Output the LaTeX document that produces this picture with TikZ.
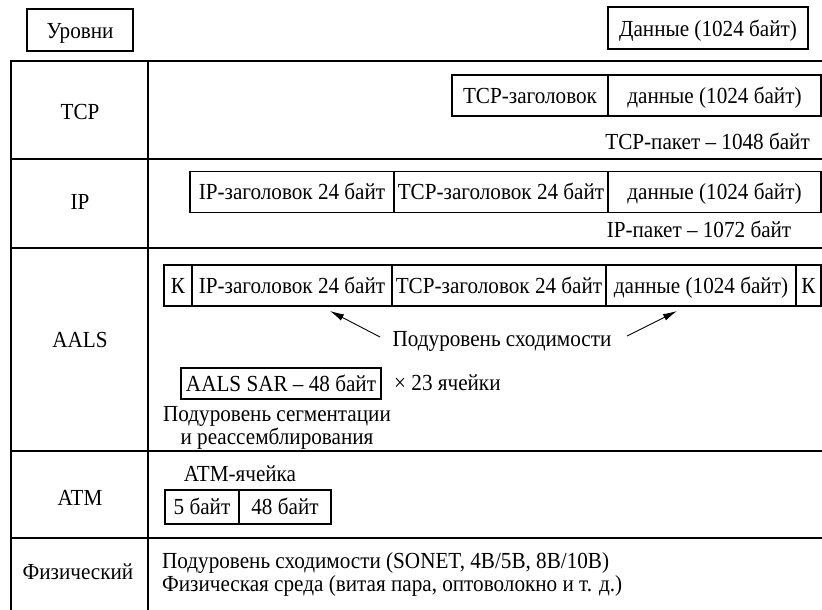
\documentclass[tikz,border=0pt]{standalone}
\usepackage{fontspec}
\setmainfont{Liberation Serif}[FakeStretch=0.92]
\usetikzlibrary{arrows.meta}
\begin{document}
\begin{tikzpicture}[x=1pt,y=-1pt,
  txt/.style={font=\fontsize{23}{23}\selectfont, inner sep=0pt, text height=17pt, text depth=2pt},
  cell/.style={txt, draw, line width=1.1pt},
  hdr/.style={cell, text height=18pt, text depth=1pt},
  rule/.style={line width=1.3pt},
  arr/.style={line width=0.9pt, -{Latex[length=14pt,width=7pt]}}]
\useasboundingbox (0,0) rectangle (822,610);
% table frame
\coordinate (ttl) at (11,61);
\coordinate (ttr) at (822,61);
\coordinate (tbl) at (11,610);
\coordinate (ctop) at (148,61);
\coordinate (cbot) at (148,610);
\draw[rule] (ttr) -- (ttl) -- (tbl);
\draw[rule] (ctop) -- (cbot);
\foreach \yy in {159,248,451,538} \draw[rule] (11,\yy) -- (822,\yy);
% header
\node[hdr, minimum width=106, minimum height=42] (levels) at (80,30) {Уровни};
\node[hdr, minimum width=200, minimum height=42] (data) at (708,28) {Данные (1024 байт)};
% level labels
\node[txt] (ltcp) at (80,112) {TCP};
\node[txt] (lip) at (80,202) {IP};
\node[txt] (laals) at (80,340) {AALS};
\node[txt] (latm) at (80,498) {ATM};
\node[txt] (lphys) at (78,572) {Физический};
% TCP row
\node[cell, minimum width=156, minimum height=41] (tcph) at (530,95.5) {TCP-заголовок};
\node[cell, minimum width=213, minimum height=41] (tcpd) at (714.5,95.5) {данные (1024 байт)};
\node[txt, anchor=east] (tcpsize) at (810,142) {TCP-пакет – 1048 байт};
% IP row
\node[cell, minimum width=204, minimum height=41] (iph) at (292,192) {IP-заголовок 24 байт};
\node[cell, minimum width=214, minimum height=41] (iptcph) at (501,192) {TCP-заголовок 24 байт};
\node[cell, minimum width=213, minimum height=41] (ipd) at (714.5,192) {данные (1024 байт)};
\node[txt] (ipsize) at (699,230) {IP-пакет – 1072 байт};
% AALS row
\node[cell, minimum width=28, minimum height=41] (k1) at (178,285.5) {К};
\node[cell, minimum width=200, minimum height=41] (ah1) at (292,285.5) {IP-заголовок 24 байт};
\node[cell, minimum width=214, minimum height=41] (ah2) at (499,285.5) {TCP-заголовок 24 байт};
\node[cell, minimum width=190, minimum height=41] (ad) at (701,285.5) {данные (1024 байт)};
\node[cell, minimum width=25, minimum height=41] (k2) at (808.5,285.5) {К};
\node[txt] (conv) at (502,339) {Подуровень сходимости};
\coordinate (a1t) at (380,337);
\coordinate (a1h) at (330,311);
\coordinate (a2t) at (627,336);
\coordinate (a2h) at (677,311);
\draw[arr] (a1t) -- (a1h);
\draw[arr] (a2t) -- (a2h);
\node[cell, minimum width=200, minimum height=31] (sar) at (281,383.5) {AALS SAR – 48 байт};
\node[txt, anchor=west] (times) at (394,383) {× 23 ячейки};
\node[txt] (seg1) at (277,414) {Подуровень сегментации};
\node[txt] (seg2) at (277,437) {и реассемблирования};
% ATM row
\node[txt] (atmcell) at (240,474) {ATM-ячейка};
\node[cell, minimum width=74, minimum height=34] (c1) at (202,507) {5 байт};
\node[cell, minimum width=92, minimum height=34] (c2) at (285,507) {48 байт};
% physical row
\node[txt, anchor=west] (ph1) at (162,561) {Подуровень сходимости (SONET, 4B/5B, 8B/10B)};
\node[txt, anchor=west] (ph2) at (162,584) {Физическая среда (витая пара, оптоволокно и т. д.)};
\end{tikzpicture}
\end{document}
